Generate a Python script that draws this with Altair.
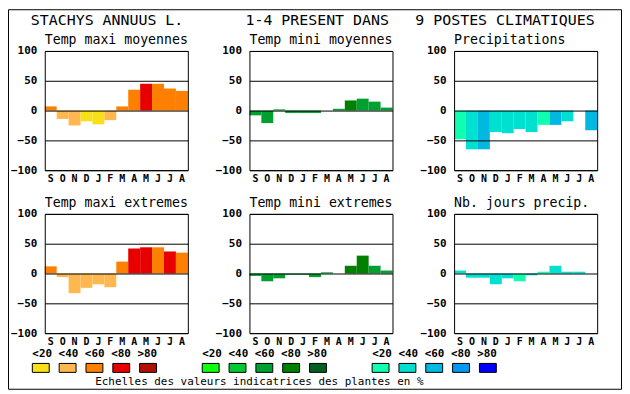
import json
import altair as alt
import pandas as pd

FONT = "DejaVu Sans Mono"

# ---- data -------------------------------------------------------------
months = ["S", "O", "N", "D", "J", "F", "M", "A", "M", "J", "J", "A"]
orange_scale = ["#f8e018", "#ffb850", "#ff8000", "#e80000", "#b01000"]
green_scale = ["#10ff10", "#00c830", "#00a030", "#008000", "#006020"]
blue_scale = ["#10ffb0", "#00e0d0", "#00b8e0", "#0098f0", "#0000f8"]
class_labels = ["<20", "<40", "<60", "<80", ">80"]

title_parts = ["STACHYS ANNUUS L.", "1-4 PRESENT DANS", "9 POSTES CLIMATIQUES"]
panel_titles = ["Temp maxi moyennes", "Temp mini moyennes", "Precipitations",
                "Temp maxi extremes", "Temp mini extremes", "Nb. jours precip."]
caption = "Echelles des valeurs indicatrices des plantes en %"

tmax_moy = [7, -14, -25, -18, -23, -16, 7, 35, 45, 45, 37, 33]
tmax_moy_cls = [2, 1, 1, 0, 0, 1, 2, 2, 3, 2, 2, 2]
tmin_moy = [-8, -21, 2, -4, -4, -4, 0, 3, 17, 20, 15, 5]
tmin_moy_cls = [2, 2, 2, 2, 2, 2, 2, 2, 3, 2, 2, 2]
precip = [-48, -65, -65, -36, -38, -31, -36, -24, -24, -18, 0, -33]
precip_cls = [0, 1, 2, 1, 1, 1, 1, 0, 2, 1, 1, 2]
tmax_ext = [12, -6, -33, -24, -18, -23, 20, 42, 44, 44, 37, 35]
tmax_ext_cls = [2, 1, 1, 1, 1, 1, 2, 3, 3, 2, 3, 2]
tmin_ext = [-4, -13, -8, -2, -2, -6, 2, 0, 13, 30, 13, 5]
tmin_ext_cls = [2, 2, 2, 2, 2, 2, 2, 2, 3, 3, 2, 2]
jours = [5, -7, -7, -18, -8, -13, -3, 3, 13, 3, 3, 0]
jours_cls = [1, 1, 1, 1, 1, 0, 1, 0, 1, 1, 1, 1]

y_ticks = [-100, -50, 0, 50, 100]

# ---- layout constants ------------------------------------------------
W, H = 144, 120
ROW_GAP, COL_GAP = 44, 62
LEG_TOP = 50 + 2 * H + 2 * ROW_GAP      # page y of the legend cell origin
one = pd.DataFrame({"k": [0]})
label_expr = "%s[datum.value]" % json.dumps(months)


def panel(title, values, classes, palette):
    df = pd.DataFrame({
        "mois": list(range(12)),
        "valeur": values,
        "couleur": [palette[c] for c in classes],
    })
    bars = alt.Chart(df).mark_bar().encode(
        x=alt.X("mois:O", title=None,
                scale=alt.Scale(paddingInner=0, paddingOuter=0),
                axis=alt.Axis(labelExpr=label_expr, labelAngle=0, ticks=False,
                              domain=False, grid=False, labelPadding=3,
                              labelBaseline="top", labelFontSize=10)),
        y=alt.Y("valeur:Q", title=None,
                scale=alt.Scale(domain=[-100, 100], nice=False),
                axis=alt.Axis(values=y_ticks, grid=True, gridColor="black",
                              gridOpacity=1, gridWidth=1, ticks=False,
                              domain=False, labelPadding=8, zindex=1)),
        y2=alt.datum(0),
        color=alt.Color("couleur:N", scale=None),
    )
    border = alt.Chart(one).mark_rect(filled=False, stroke="black", strokeWidth=1).encode(
        x=alt.value(0.5), x2=alt.value(W + 0.5), y=alt.value(0.5), y2=alt.value(H + 0.5)
    )
    return alt.layer(bars, border).properties(
        width=W, height=H,
        title=alt.TitleParams(text=title, anchor="start", frame="group", font=FONT,
                              fontSize=13.3, fontWeight="normal", color="black",
                              baseline="alphabetic", offset=-12.5),
    )


p1 = panel(panel_titles[0], tmax_moy, tmax_moy_cls, orange_scale)
p2 = panel(panel_titles[1], tmin_moy, tmin_moy_cls, green_scale)
p3 = panel(panel_titles[2], precip, precip_cls, blue_scale)
p4 = panel(panel_titles[3], tmax_ext, tmax_ext_cls, orange_scale)
p5 = panel(panel_titles[4], tmin_ext, tmin_ext_cls, green_scale)
p6 = panel(panel_titles[5], jours, jours_cls, blue_scale)

# ---- legend cell (also carries the outer frame and the main title) --------
SLOT = 27.0
GROUP_STEP = 171.0 / SLOT
SW = 17.0 / SLOT
palettes = [orange_scale, green_scale, blue_scale]
rows = []
for g, pal in enumerate(palettes):
    for i, col in enumerate(pal):
        s = g * GROUP_STEP + i
        rows.append({"slot": s, "slot2": s + SW, "couleur": col})
leg_df = pd.DataFrame(rows)
lab_df = pd.DataFrame({"slot": [g * GROUP_STEP for g in range(3)],
                       "texte": [" ".join(class_labels)] * 3})
xscale = alt.Scale(domain=[0, 10], range=[-12.5, -12.5 + 10 * SLOT])

swatches = alt.Chart(leg_df).mark_rect(stroke="black", strokeWidth=1).encode(
    x=alt.X("slot:Q", scale=xscale, axis=None),
    x2="slot2:Q",
    y=alt.value(364.5 - LEG_TOP), y2=alt.value(373.5 - LEG_TOP),
    color=alt.Color("couleur:N", scale=None),
)
labels = alt.Chart(lab_df).mark_text(font=FONT, fontSize=11, fontWeight="bold",
                                     align="left", baseline="alphabetic",
                                     color="black").encode(
    x=alt.X("slot:Q", scale=xscale, axis=None),
    y=alt.value(358.5 - LEG_TOP),
    text="texte:N",
)
cap = alt.Chart(one).mark_text(text=caption, font=FONT, fontSize=11, align="center",
                               baseline="alphabetic", color="black").encode(
    x=alt.value(216), y=alt.value(386.5 - LEG_TOP))

frame = alt.Chart(one).mark_rect(filled=False, stroke="black", strokeWidth=1).encode(
    x=alt.value(-36.5), x2=alt.value(580.5),
    y=alt.value(8.5 - LEG_TOP), y2=alt.value(390.5 - LEG_TOP)
)
title_x = [-14, 202, 373]
title_layers = [
    alt.Chart(one).mark_text(text=t, font=FONT, fontSize=15, align="left",
                             baseline="alphabetic", color="black").encode(
        x=alt.value(x), y=alt.value(24 - LEG_TOP))
    for t, x in zip(title_parts, title_x)
]
legend = alt.layer(swatches, labels, cap, frame, *title_layers).properties(width=W, height=10)

# ---- assemble -------------------------------------------------------------
chart = alt.concat(p1, p2, p3, p4, p5, p6, legend, columns=3,
                   spacing={"row": ROW_GAP, "column": COL_GAP},
                   bounds="flush").properties(
    padding=0, background="white"
).configure_view(strokeOpacity=0).configure_axis(
    labelFont=FONT, labelFontSize=11, labelFontWeight="bold", labelColor="black"
)

chart.save("out.html", embed_options={"renderer": "svg", "actions": False})
